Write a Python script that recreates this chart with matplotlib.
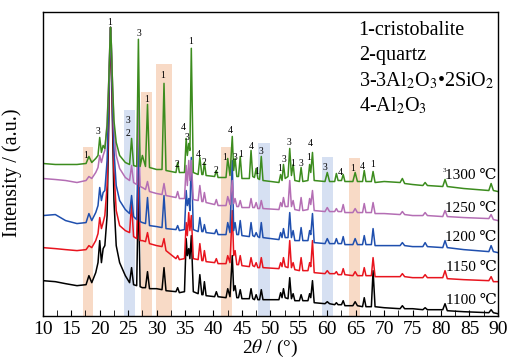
import numpy as np
import matplotlib
matplotlib.use('Agg')
from matplotlib import pyplot as plt

plt.rcParams['font.family'] = ['Liberation Serif', 'DejaVu Serif']
plt.rcParams['mathtext.fontset'] = 'stix'

# 2theta (deg) - common vertices for all patterns
two_theta = [10, 12.2, 14, 16, 17.6, 18.1, 18.6, 19.3, 19.7, 20.0,
             20.3, 20.6, 20.9, 21.3, 21.6, 21.75, 21.9, 22.05, 22.2, 22.5,
             22.9, 23.5, 24.5, 25.25, 25.6, 25.95, 26.5, 26.8, 27.1, 27.5,
             28.05, 28.4, 28.75, 30.0, 30.95, 31.3, 31.65, 33.4, 33.7, 34.0,
             34.9, 35.2, 35.4, 35.65, 35.85, 36.1, 36.45, 37.3, 37.6, 37.95,
             38.15, 38.4, 38.7, 40.2, 40.5, 40.8, 42.2, 42.5, 42.9, 43.3,
             43.55, 43.8, 44.1, 44.4, 44.7, 45.0, 46.3, 46.6, 46.9, 47.2,
             47.5, 47.8, 48.1, 48.4, 48.7, 51.5, 51.8, 52.05, 52.3, 52.6,
             53.1, 53.4, 53.7, 54.0, 54.3, 55.1, 55.4, 55.7, 56.6, 56.9,
             57.1, 57.4, 57.7, 59.6, 60.0, 60.4, 61.3, 61.6, 61.9, 62.5,
             62.8, 63.1, 64.5, 64.9, 65.3, 66.2, 66.5, 66.8, 67.75, 68.05,
             68.4, 70, 72.8, 73.2, 73.6, 75, 76.8, 77.2, 77.6, 80.3,
             80.7, 81.1, 84, 88.4, 88.8, 89.2, 90]

# intensities (a.u., stacked as in the figure)
i_1100 = [35, 34, 32, 30, 31, 40, 33, 43, 53, 75,
          53, 67, 70, 100, 195, 250, 288, 255, 205, 115,
          70, 53, 40, 33, 48, 31, 30, 130, 29, 28,
          28, 44, 27, 27, 26, 48, 25, 24, 28, 23,
          24, 77, 60, 67, 57, 80, 24, 22, 41, 21,
          21, 34, 20, 19, 24, 19, 18, 27, 19, 60,
          25, 30, 18, 18, 26, 17, 17, 27, 17, 16,
          21, 16, 16, 26, 16, 16, 23, 18, 27, 18,
          17, 38, 17, 22, 15, 15, 21, 15, 15, 22,
          18, 35, 13, 12, 14, 12, 11, 13, 11, 11,
          15, 10, 10, 14, 10, 9, 18, 9, 9, 45,
          9, 8, 7, 10, 7, 7, 6, 8, 6, 6,
          12, 5, 4, 3, 6, 3, 2]
i_1150 = [68, 67, 66, 65, 66, 70, 68, 75, 82, 98,
          87, 93, 100, 130, 210, 255, 288, 260, 215, 145,
          105, 90, 85, 83, 112, 79, 77, 155, 75, 75,
          74, 83, 72, 70, 69, 77, 65, 57, 60, 56,
          57, 93, 80, 103, 85, 100, 57, 56, 72, 55,
          55, 65, 54, 53, 57, 52, 52, 60, 53, 105,
          60, 65, 51, 51, 60, 50, 49, 58, 50, 49,
          53, 48, 48, 58, 48, 47, 53, 49, 58, 49,
          48, 75, 48, 53, 46, 45, 58, 45, 45, 53,
          49, 75, 43, 42, 45, 42, 42, 44, 41, 41,
          47, 41, 40, 44, 40, 40, 48, 40, 40, 58,
          39, 39, 39, 42, 39, 38, 38, 41, 38, 38,
          45, 37, 36, 35, 39, 34, 34]
i_1200 = [100, 101, 95, 92, 93, 102, 95, 103, 110, 128,
          115, 123, 125, 155, 220, 260, 288, 265, 225, 165,
          130, 115, 106, 102, 120, 99, 96, 185, 94, 93,
          92, 118, 90, 89, 88, 120, 87, 86, 90, 85,
          86, 125, 110, 117, 105, 158, 86, 84, 98, 84,
          84, 91, 83, 82, 86, 81, 81, 93, 83, 155,
          85, 93, 81, 81, 95, 80, 79, 93, 80, 79,
          83, 79, 78, 93, 78, 76, 83, 78, 87, 78,
          78, 103, 78, 85, 75, 75, 88, 75, 75, 85,
          81, 102, 73, 72, 77, 72, 72, 77, 72, 72,
          79, 71, 71, 77, 71, 71, 80, 71, 71, 87,
          70, 70, 70, 73, 70, 69, 69, 73, 69, 68,
          75, 68, 66, 64, 70, 64, 63]
i_1250 = [137, 136, 135, 133, 135, 139, 137, 143, 148, 160,
          153, 160, 165, 193, 237, 265, 288, 270, 240, 190,
          160, 147, 138, 135, 150, 133, 131, 215, 129, 128,
          126, 134, 124, 122, 121, 132, 120, 118, 124, 117,
          117, 150, 130, 155, 135, 155, 116, 115, 130, 114,
          114, 123, 113, 111, 116, 110, 110, 119, 111, 135,
          112, 117, 109, 109, 115, 108, 108, 117, 108, 108,
          113, 107, 107, 115, 107, 106, 113, 109, 118, 109,
          109, 135, 109, 115, 106, 105, 118, 105, 106, 117,
          111, 125, 105, 104, 108, 104, 104, 107, 104, 104,
          111, 103, 103, 107, 103, 103, 112, 103, 103, 113,
          102, 102, 101, 104, 101, 100, 100, 103, 100, 99,
          105, 99, 98, 97, 101, 96, 95]
i_1300 = [152, 151, 151, 151, 152, 159, 153, 157, 160, 178,
          163, 170, 167, 190, 235, 265, 288, 270, 240, 195,
          173, 160, 153, 151, 177, 150, 149, 276, 149, 160,
          149, 211, 148, 146, 146, 232, 145, 143, 153, 143,
          143, 177, 160, 172, 165, 267, 143, 141, 158, 141,
          141, 153, 140, 139, 145, 138, 138, 157, 140, 179,
          145, 157, 139, 139, 159, 137, 137, 165, 139, 138,
          147, 137, 136, 159, 135, 133, 141, 135, 151, 137,
          139, 167, 140, 151, 135, 134, 148, 134, 135, 151,
          143, 163, 135, 134, 143, 134, 134, 142, 135, 135,
          141, 134, 134, 143, 134, 134, 145, 134, 134, 144,
          133, 134, 133, 137, 132, 131, 130, 133, 130, 129,
          136, 129, 127, 125, 132, 125, 124]

temps = ['1100 ℃', '1150 ℃', '1200 ℃', '1250 ℃', '1300 ℃']
temp_y = [15, 48, 78, 107, 140]
colors = ['#000000', '#e8141e', '#1f4fae', '#b46eb4', '#3c8c1e']

# highlighted regions
band_lo = [17.1, 24.3, 27.3, 29.9, 41.3, 47.8, 59.1, 63.9]
band_hi = [18.8, 26.2, 29.2, 32.7, 43.3, 49.9, 61.0, 65.8]
band_top = [168, 205, 223, 251, 168, 172, 158, 157]
band_col = ['#f8dac6', '#d6e0f2', '#f8dac6', '#f8dac6', '#f8dac6', '#d6e0f2', '#d6e0f2', '#f8dac6']

# phase labels on peaks
lab_x = [17.6, 19.7, 21.8, 24.9, 24.9, 26.9, 28.2, 31.1, 33.5, 34.6, 35.3, 35.9,
         37.3, 38.4, 40.5, 41.9, 42.9, 43.8, 44.7, 46.6, 47.5, 48.4,
         51.7, 52.3, 53.2, 53.9, 55.4, 56.7, 57.0, 59.6, 62.3, 64.5, 66.2, 67.9]
lab_y = [160, 184, 293, 195, 182, 282, 216, 240, 151, 188, 178, 274,
         161, 153, 145, 158, 185, 158, 161, 169, 144, 164,
         147, 156, 173, 152, 152, 158, 172, 148, 143, 147, 149, 151]
lab_t = ['1', '3', '1', '3', '2', '3', '1', '1', '2', '4', '3', '1',
         '4', '2', '2', '1', '4', '3', '1', '4', '1', '3',
         '1', '3', '3', '1', '3', '1', '4', '3', '4', '1', '4', '1']

patterns = [i_1100, i_1150, i_1200, i_1250, i_1300]
for p in patterns:
    assert len(p) == len(two_theta)

fig = plt.figure(figsize=(5.16, 3.6), dpi=100)
ax = fig.add_axes([0.083, 0.123, 0.882, 0.843])

ax.bar(band_lo, band_top, width=np.array(band_hi) - np.array(band_lo), align='edge',
       color=band_col, edgecolor='none', zorder=0)

for p, c in zip(patterns, colors):
    ax.plot(two_theta, p, color=c, lw=1.1, zorder=2)

for t, y in zip(temps, temp_y):
    ax.text(89.8, y, t, fontsize=11, ha='right', va='center', zorder=3)

for x, y, t in zip(lab_x, lab_y, lab_t):
    ax.text(x, y, t, fontsize=7, ha='center', va='center', zorder=3)
ax.text(80.6, 145, '3', fontsize=5, ha='center', va='center')

# phase legend
legend_txt = ['1-cristobalite', '2-quartz', '3-3Al$_2$O$_3$•2SiO$_2$', '4-Al$_2$O$_3$']
for k, s in enumerate(legend_txt):
    ax.text(0.694, 0.94 - k * 0.083, s, fontsize=14.5, transform=ax.transAxes,
            ha='left', va='center')

ax.set_xlim(10, 90)
ax.set_ylim(0, 303)
ax.set_xticks(np.arange(10, 91, 5))
ax.set_xticks(np.arange(12.5, 90, 5), minor=True)
ax.set_yticks([])
ax.tick_params(axis='x', which='both', direction='in', length=4, labelsize=14, pad=4)
ax.set_xlabel('2$\\theta$ / (°)', fontsize=14, labelpad=0)
ax.set_ylabel('Intensity / (a.u.)', fontsize=14.5)
ax.yaxis.set_label_coords(-0.045, 0.47)
for s in ax.spines.values():
    s.set_linewidth(1.0)

fig.savefig('out.png', dpi=100)
